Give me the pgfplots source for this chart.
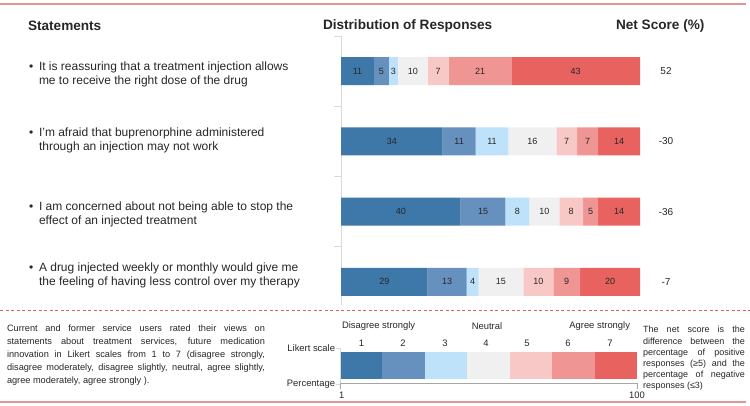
\documentclass[border=0pt]{standalone}
\usepackage{pgfplots}
\pgfplotsset{compat=1.18}
\usepackage{fontspec}
\setmainfont{Liberation Sans}
\definecolor{c1}{HTML}{3E78A8}
\definecolor{c2}{HTML}{6690BD}
\definecolor{c3}{HTML}{BDE2FA}
\definecolor{c4}{HTML}{F0F0F0}
\definecolor{c5}{HTML}{F8C8C6}
\definecolor{c6}{HTML}{EF9593}
\definecolor{c7}{HTML}{E8625F}
\definecolor{txt}{HTML}{262626}
\definecolor{rulec}{HTML}{E69596}
\definecolor{dashc}{HTML}{E0605F}
\definecolor{axgray}{HTML}{D9D9D9}
\definecolor{brgray}{HTML}{A6A6A6}
\tikzset{t/.style={inner sep=0pt,outer sep=0pt,text=txt}}
\newcommand{\stmt}{\fontsize{12}{13.5}\selectfont}
\newcommand{\foot}{\fontsize{9.2}{12}\selectfont}
\newcommand{\foottwo}{\fontsize{9}{11}\selectfont}
\begin{document}
\begin{tikzpicture}[x=1pt,y=1pt]
\path[use as bounding box] (0,0) rectangle (750,406);
% frame lines
\draw[rulec, line width=2pt] (0,402) -- (746,402);
\draw[rulec, line width=2pt] (0,4) -- (746,4);
\draw[dashc, line width=0.8pt, dash pattern=on 3pt off 2.5pt] (0,96) -- (750,96);
% headers
\node[t, anchor=west, font=\bfseries\fontsize{13.6}{16}\selectfont] at (28,380) {Statements};
\node[t, anchor=west, font=\bfseries\fontsize{13.6}{16}\selectfont] at (323,380) {Distribution of Responses};
\node[t, anchor=west, font=\bfseries\fontsize{13.6}{16}\selectfont] at (616,380) {Net Score (\%)};
% statements
\node[t, anchor=base west, font=\stmt] at (29,406-71) {•};
\node[t, anchor=base west, font=\stmt] at (39,406-71) {It is reassuring that a treatment injection allows};
\node[t, anchor=base west, font=\stmt] at (39,406-84.5) {me to receive the right dose of the drug};
\node[t, anchor=base west, font=\stmt] at (29,406-137) {•};
\node[t, anchor=base west, font=\stmt] at (39,406-137) {I’m afraid that buprenorphine administered};
\node[t, anchor=base west, font=\stmt] at (39,406-150.5) {through an injection may not work};
\node[t, anchor=base west, font=\stmt] at (29,406-211) {•};
\node[t, anchor=base west, font=\stmt] at (39,406-211) {I am concerned about not being able to stop the};
\node[t, anchor=base west, font=\stmt] at (39,406-224.5) {effect of an injected treatment};
\node[t, anchor=base west, font=\stmt] at (29,406-272) {•};
\node[t, anchor=base west, font=\stmt] at (39,406-272) {A drug injected weekly or monthly would give me};
\node[t, anchor=base west, font=\stmt] at (39,406-285.5) {the feeling of having less control over my therapy};

% main chart
\begin{axis}[
  at={(341pt,370pt)}, anchor=north west,
  scale only axis, width=299pt, height=269pt,
  xbar stacked, bar width=28pt,
  xmin=0, xmax=100, ymin=0.5, ymax=4.33, y dir=reverse,
  axis x line=none, axis y line*=left,
  ytick={0.5,1.5,2.5,3.5}, yticklabels={},
  tick align=outside, major tick length=7pt,
  y axis line style={axgray, line width=0.8pt},
  ytick style={axgray, line width=0.8pt},
  point meta=explicit symbolic,
  nodes near coords={\pgfplotspointmeta},
  every node near coord/.append style={font=\fontsize{9}{10}\selectfont, text=txt},
  clip=false,
]
\addplot[fill=c1, draw=none] coordinates {(11,1) [11] (34,2) [34] (40,3) [40] (29,4) [29]};
\addplot[fill=c2, draw=none] coordinates {(5,1) [5] (11,2) [11] (15,3) [15] (13,4) [13]};
\addplot[fill=c3, draw=none] coordinates {(3,1) [3] (11,2) [11] (8,3) [8] (4,4) [4]};
\addplot[fill=c4, draw=none] coordinates {(10,1) [10] (16,2) [16] (10,3) [10] (15,4) [15]};
\addplot[fill=c5, draw=none] coordinates {(7,1) [7] (7,2) [7] (8,3) [8] (10,4) [10]};
\addplot[fill=c6, draw=none] coordinates {(21,1) [21] (7,2) [7] (5,3) [5] (9,4) [9]};
\addplot[fill=c7, draw=none] coordinates {(43,1) [43] (14,2) [14] (14,3) [14] (20,4) [20]};
\node[t, font=\fontsize{10}{12}\selectfont] at (axis cs:108.7,1) {52};
\node[t, font=\fontsize{10}{12}\selectfont] at (axis cs:108.7,2) {-30};
\node[t, font=\fontsize{10}{12}\selectfont] at (axis cs:108.7,3) {-36};
\node[t, font=\fontsize{10}{12}\selectfont] at (axis cs:108.7,4) {-7};
\end{axis}

% legend chart
\begin{axis}[
  at={(340pt,54pt)}, anchor=north west,
  scale only axis, width=297pt, height=27pt,
  xbar stacked, bar width=27pt,
  xmin=0, xmax=7, ymin=-0.5, ymax=0.5,
  axis lines=none, clip=false,
]
\addplot[fill=c1, draw=none] coordinates {(1,0)};
\addplot[fill=c2, draw=none] coordinates {(1,0)};
\addplot[fill=c3, draw=none] coordinates {(1,0)};
\addplot[fill=c4, draw=none] coordinates {(1,0)};
\addplot[fill=c5, draw=none] coordinates {(1,0)};
\addplot[fill=c6, draw=none] coordinates {(1,0)};
\addplot[fill=c7, draw=none] coordinates {(1,0)};
\end{axis}
% legend texts
\foreach \i/\xx in {1/361.5,2/403,3/445,4/486,5/527,6/568,7/610}{
  \node[t, font=\fontsize{9.4}{11}\selectfont] at (\xx,406-343) {\i};
}
\node[t, anchor=west, font=\fontsize{9.4}{11}\selectfont] at (342,406-326) {Disagree strongly};
\node[t, font=\fontsize{9.4}{11}\selectfont] at (487,406-326) {Neutral};
\node[t, anchor=east, font=\fontsize{9.4}{11}\selectfont] at (630,406-326) {Agree strongly};
\node[t, anchor=east, font=\fontsize{9.4}{11}\selectfont] at (335,406-348) {Likert scale};
\node[t, anchor=east, font=\fontsize{9.4}{11}\selectfont] at (335,406-384) {Percentage};
\draw[axgray, line width=0.8pt] (336,406-348) -- (340,406-348) -- (340,406-384) -- (336,406-384);
\draw[brgray, line width=0.7pt] (340,406-389) -- (340,406-383) -- (637,406-383) -- (637,406-389);
\node[t, anchor=west, font=\fontsize{9.4}{11}\selectfont] at (339,406-395) {1};
\node[t, font=\fontsize{9.4}{11}\selectfont] at (637,406-395) {100};

% footnote left
\node[t, anchor=base west, font=\foot] at (7,406-331.5) {\makebox[258pt][s]{Current and former service users rated their views on}};
\node[t, anchor=base west, font=\foot] at (7,406-344.4) {\makebox[258pt][s]{statements about treatment services, future medication}};
\node[t, anchor=base west, font=\foot] at (7,406-357.3) {\makebox[258pt][s]{innovation in Likert scales from 1 to 7 (disagree strongly,}};
\node[t, anchor=base west, font=\foot] at (7,406-370.2) {\makebox[258pt][s]{disagree moderately, disagree slightly, neutral, agree slightly,}};
\node[t, anchor=base west, font=\foot] at (7,406-383.1) {agree moderately, agree strongly ).};

% footnote right
\node[t, anchor=base west, font=\foottwo] at (643,406-333) {\makebox[102pt][s]{The net score is the}};
\node[t, anchor=base west, font=\foottwo] at (643,406-344.2) {\makebox[102pt][s]{difference between the}};
\node[t, anchor=base west, font=\foottwo] at (643,406-355.4) {\makebox[102pt][s]{percentage of positive}};
\node[t, anchor=base west, font=\foottwo] at (643,406-366.6) {\makebox[102pt][s]{responses (≥5) and the}};
\node[t, anchor=base west, font=\foottwo] at (643,406-377.8) {\makebox[102pt][s]{percentage of negative}};
\node[t, anchor=base west, font=\foottwo] at (643,406-389) {responses (≤3)};
\end{tikzpicture}
\end{document}
